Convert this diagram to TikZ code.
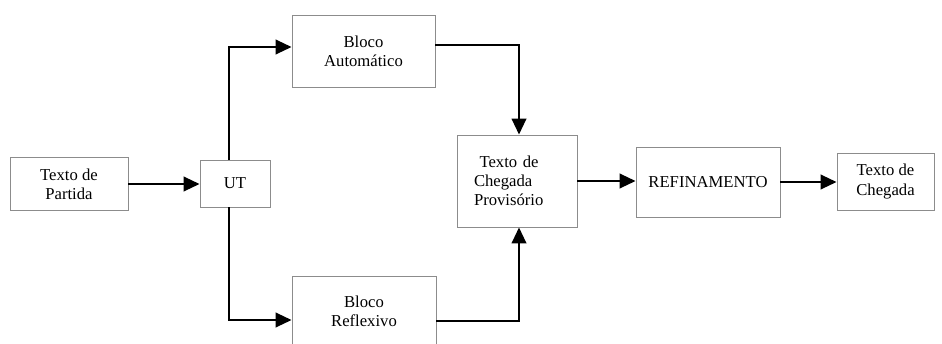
\documentclass[tikz,border=0pt]{standalone}
\usepackage{fontspec}
\setmainfont{Liberation Serif}
\usetikzlibrary{arrows.meta}

\begin{document}
\begin{tikzpicture}
[x=0.75pt,y=-0.75pt,
box/.style={draw=black!45,line width=0.7pt,inner sep=0pt,align=center,
  font=\fontsize{12.5}{14.4}\selectfont},
arr/.style={line width=1.5pt,-{Triangle[length=12pt,width=11pt]}},]

\useasboundingbox (0,0) rectangle (942,343);

\node (partida) at (69,184)[box,minimum width=88.5pt,minimum height=39.75pt]{Texto de\\Partida};
\node (ut) at (235,183.5)[box,minimum width=52.5pt,minimum height=35.25pt]{UT};
\node (auto) at (363.5,51)[box,minimum width=107.25pt,minimum height=54pt]{Bloco\\Autom\'atico};
\node (reflex) at (364,311)[box,minimum width=108pt,minimum height=52.5pt]{Bloco\\Reflexivo};
\node (provis) at (517,181)[box,align=left,text width=64.5pt,minimum width=90pt,minimum height=69pt]{\ Texto de\\Chegada\\Provis\'orio};
\node (refin) at (708,182)[box,minimum width=108pt,minimum height=52.5pt]{REFINAMENTO};
\node (chegada) at (885.5,181.5)[box,minimum width=72.75pt,minimum height=42.75pt]{Texto de\\Chegada};

\draw[arr] (partida.east) -- (partida.east -| ut.west);
%\draw (ut.north) -- (auto.west);
\draw[arr] ([xshift=-4.5pt]ut.north) |- ([yshift=3pt]auto.west);
\draw[arr] ([xshift=-4.5pt]ut.south) |- ([yshift=-6.75pt]reflex.west);
\draw[arr] ([yshift=4.5pt]auto.east) -| ([xshift=1.5pt]provis.north);
\draw[arr] ([yshift=-7.5pt]reflex.east) -| ([xshift=1.5pt]provis.south);
\draw[arr] (provis.east) -- (provis.east -| refin.west);
\draw[arr] (refin.east) -- (refin.east -| chegada.west);

\end{tikzpicture}
\end{document}
